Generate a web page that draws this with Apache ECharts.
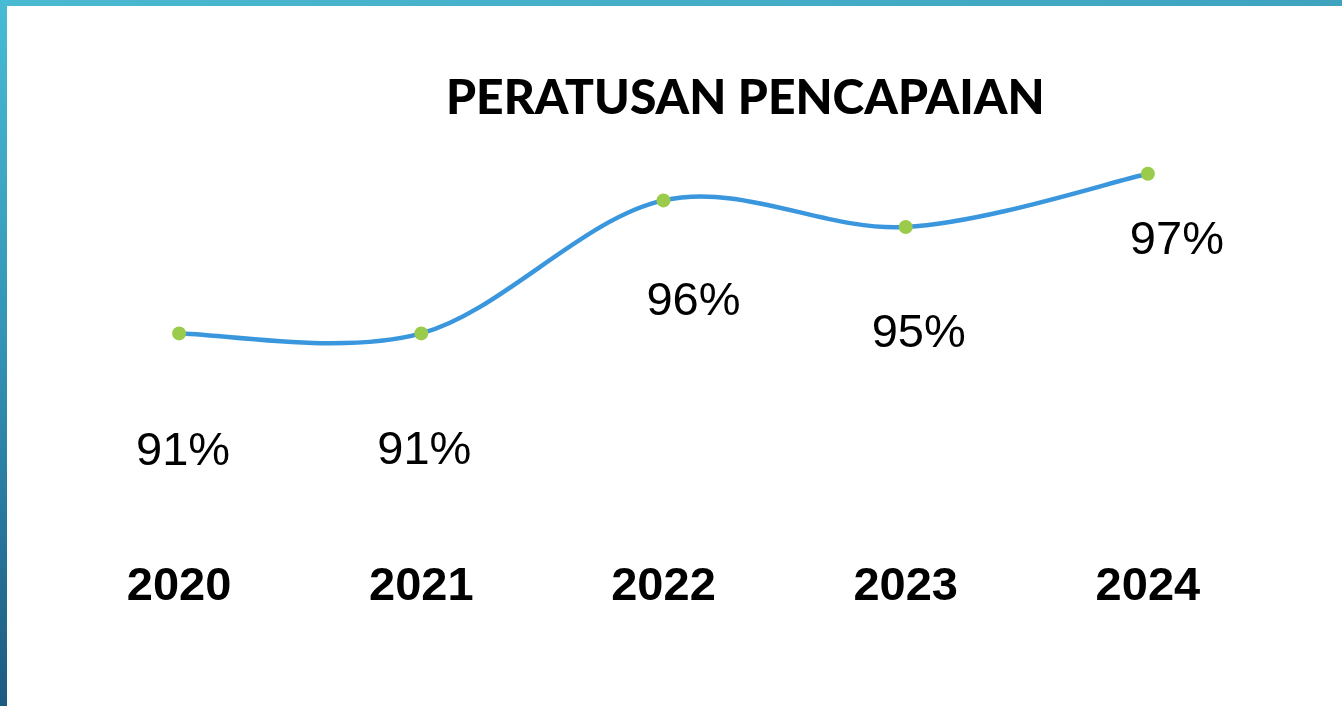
<!DOCTYPE html>
<html>
<head>
<meta charset="utf-8">
<title>Peratusan Pencapaian</title>
<script src="https://cdn.jsdelivr.net/npm/echarts@6/dist/echarts.min.js"></script>
<style>
  html, body { margin: 0; padding: 0; background: #fff; }
  #chart { width: 1342px; height: 706px; }
</style>
</head>
<body>
<div id="chart"></div>
<script>
const years = ["2020", "2021", "2022", "2023", "2024"];
const achievement = [91, 91, 96, 95, 97];
const percentLabels = ["91%", "91%", "96%", "95%", "97%"];

// label offsets from each point (hand placed in the original)
const labelOffsets = [[4, 119], [3, 118], [30, 102], [13, 107], [29, 67]];

const chart = echarts.init(document.getElementById("chart"));

// office-style spline (catmull-rom) through all the points, drawn once
const renderSpline = (params, api) => {
    if (params.dataIndex !== 0) return null;
    const pts = achievement.map((v, i) => api.coord([i, v]));
    let d = "M" + pts[0][0] + "," + pts[0][1];
    for (let i = 0; i < pts.length - 1; i++) {
        const p0 = pts[i - 1] || pts[i];
        const p1 = pts[i];
        const p2 = pts[i + 1];
        const p3 = pts[i + 2] || pts[i + 1];
        const c1x = p1[0] + (p2[0] - p0[0]) / 6;
        const c1y = p1[1] + (p2[1] - p0[1]) / 6;
        const c2x = p2[0] - (p3[0] - p1[0]) / 6;
        const c2y = p2[1] - (p3[1] - p1[1]) / 6;
        d += " C" + c1x + "," + c1y + " " + c2x + "," + c2y + " " + p2[0] + "," + p2[1];
    }
    return {
        type: "path",
        shape: { pathData: d },
        style: { fill: null, stroke: "#3a97dd", lineWidth: 4.5, lineCap: "round" },
    };
};

const option = {
    backgroundColor: "#fff",
    title: {
        text: "PERATUSAN PENCAPAIAN",
        left: 441,
        top: 70,
        textStyle: {
            fontFamily: "Lato",
            fontWeight: 900,
            fontSize: 48,
            color: "#000",
        },
    },
    graphic: [
        {
            type: "rect",
            left: 0,
            top: 0,
            shape: { width: 1342, height: 6 },
            style: {
                fill: new echarts.graphic.LinearGradient(0, 0, 1, 0, [
                    { offset: 0, color: "#4ab9d2" },
                    { offset: 1, color: "#3fa3c0" },
                ]),
            },
            z: 10,
        },
        {
            type: "rect",
            left: 0,
            top: 0,
            shape: { width: 7, height: 706 },
            style: {
                fill: new echarts.graphic.LinearGradient(0, 0, 0, 1, [
                    { offset: 0, color: "#48bcd4" },
                    { offset: 0.5, color: "#3392b4" },
                    { offset: 1, color: "#1d5a80" },
                ]),
            },
            z: 10,
        },
    ],
    grid: {
        left: 58,
        right: 73,
        top: 94,
        bottom: 213,
    },
    xAxis: {
        type: "category",
        data: years,
        boundaryGap: true,
        axisLine: { show: false },
        axisTick: { show: false },
        axisLabel: {
            margin: 71,
            fontFamily: "Liberation Sans",
            fontWeight: "bold",
            fontSize: 47,
            color: "#000",
        },
    },
    yAxis: {
        type: "value",
        min: 85,
        max: 100,
        show: false,
        splitLine: { show: false },
    },
    series: [
        {
            type: "custom",
            renderItem: renderSpline,
            data: achievement.map((v, i) => [i, v]),
            silent: true,
            z: 1,
        },
        {
            type: "line",
            data: achievement.map((v, i) => ({
                value: v,
                label: {
                    offset: labelOffsets[i],
                    formatter: percentLabels[i],
                },
            })),
            symbol: "circle",
            symbolSize: 14,
            lineStyle: { width: 0, opacity: 0 },
            itemStyle: { color: "#9acb4a", borderWidth: 0 },
            label: {
                show: true,
                position: "inside",
                fontFamily: "Liberation Sans",
                fontSize: 47,
                color: "#000",
            },
            z: 2,
        },
    ],
};

chart.setOption(option);
</script>
</body>
</html>
